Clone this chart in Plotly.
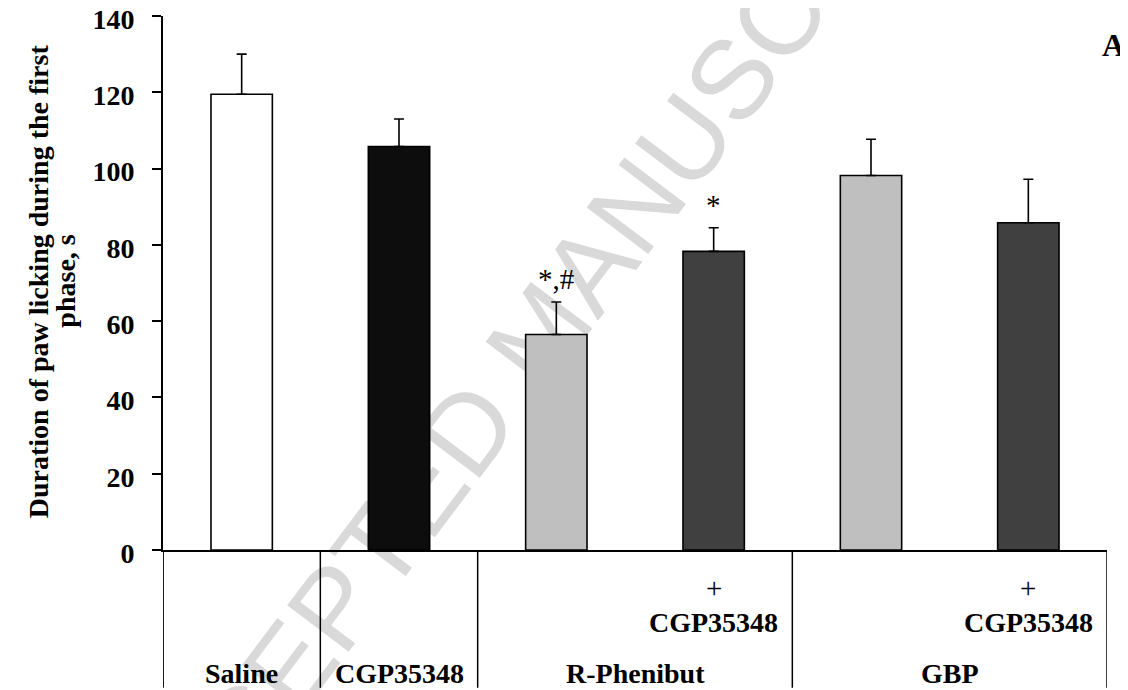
import plotly.graph_objects as go

# ---------------- data ----------------
categories = ["Saline", "CGP35348", "R-Phenibut", "R-Phenibut + CGP35348", "GBP", "GBP + CGP35348"]
means = [119.5, 105.8, 56.5, 78.3, 98.2, 85.8]
sems = [10.5, 7.2, 8.5, 6.2, 9.5, 11.4]
bar_colors = ["#ffffff", "#0d0d0d", "#bfbfbf", "#404040", "#bfbfbf", "#404040"]
sig_labels = ["", "", "*,#", "*", "", ""]

group_labels = ["Saline", "CGP35348", "R-Phenibut", "GBP"]
group_spans = [(0, 0), (1, 1), (2, 3), (4, 5)]   # first / last category index of each group
combo_index = [3, 5]                              # categories labelled "+ CGP35348"
combo_label = "CGP35348"

y_ticks = [0, 20, 40, 60, 80, 100, 120, 140]
y_title_lines = ["Duration of paw licking during the first", "phase, s"]
panel_letter = "A"
watermark = "ACCEPTED MANUSCRIPT"

SERIF = "Times New Roman, Liberation Serif, serif"
SANS = "Arial, Liberation Sans, sans-serif"

x_pos = list(range(len(categories)))

fig = go.Figure()
fig.add_trace(go.Bar(
    x=x_pos, y=means, width=0.39,
    marker=dict(color=bar_colors, line=dict(color="black", width=1.6)),
    error_y=dict(type="data", array=sems, arrayminus=[0] * len(sems), symmetric=False,
                 color="black", thickness=1.6, width=5),
    hovertext=categories, showlegend=False,
))

# significance marks above error bars
for i, lab in enumerate(sig_labels):
    if lab:
        fig.add_annotation(x=x_pos[i], y=means[i] + sems[i] + 6.0, xref="x", yref="y",
                           text=lab, showarrow=False, yanchor="middle",
                           font=dict(family=SERIF, size=29, color="black"))

# ---------------- table under the axis ----------------
TABLE_BOTTOM = -0.258
separators = [-0.5] + [span[1] + 0.5 for span in group_spans]
for k, sx in enumerate(separators):
    fig.add_shape(type="line", xref="x", yref="paper", x0=sx, x1=sx, y0=0, y1=TABLE_BOTTOM,
                  line=dict(color="black", width=1.8 if k == 0 else 1.5))

for lab, (a, b) in zip(group_labels, group_spans):
    fig.add_annotation(x=(x_pos[a] + x_pos[b]) / 2, y=-0.231, xref="x", yref="paper",
                       text="<b>%s</b>" % lab, showarrow=False, yanchor="middle",
                       font=dict(family=SERIF, size=28, color="black"))

for i in combo_index:
    fig.add_annotation(x=x_pos[i], y=-0.071, xref="x", yref="paper", text="+",
                       showarrow=False, yanchor="middle",
                       font=dict(family=SERIF, size=29, color="black"))
    fig.add_annotation(x=x_pos[i], y=-0.135, xref="x", yref="paper",
                       text="<b>%s</b>" % combo_label, showarrow=False, yanchor="middle",
                       font=dict(family=SERIF, size=28, color="black"))

# ---------------- y axis title ----------------
for xp, line in zip([-0.131, -0.103], y_title_lines):
    fig.add_annotation(x=xp, y=0.504, xref="paper", yref="paper", text="<b>%s</b>" % line,
                       textangle=-90, showarrow=False, xanchor="center", yanchor="middle",
                       font=dict(family=SERIF, size=28, color="black"))

# panel letter
fig.add_annotation(x=1.0064, y=0.946, xref="paper", yref="paper", text="<b>%s</b>" % panel_letter,
                   showarrow=False, xanchor="center", yanchor="middle",
                   font=dict(family=SERIF, size=32, color="black"))

# watermark (behind the bars)
fig.add_shape(type="rect", xref="paper", yref="paper", x0=0.390, x1=0.392, y0=0.4185, y1=0.4205,
              line=dict(width=0, color="rgba(0,0,0,0)"), fillcolor="rgba(0,0,0,0)", layer="below",
              label=dict(text=watermark, textangle=-53, textposition="middle center",
                         font=dict(family=SANS, size=112, color="#d9d9d9")))

fig.update_layout(
    width=1120, height=682,
    margin=dict(l=155, r=21, t=8, b=140),
    plot_bgcolor="rgba(0,0,0,0)", paper_bgcolor="white",
    xaxis=dict(range=[-0.5, 5.5], showline=True, linecolor="black", linewidth=2, automargin=False,
               showgrid=False, zeroline=False, showticklabels=False, ticks=""),
    yaxis=dict(range=[0, 140], tickvals=y_ticks, showline=True, linecolor="black", linewidth=2,
               ticks="outside", ticklen=9, tickwidth=2, tickcolor="black", automargin=False,
               showgrid=False, zeroline=False, ticklabelstandoff=12, ticklabeloverflow="allow",
               ticklabelshift=3,
               tickfont=dict(family=SERIF, size=28, color="black", weight="bold")),
)

fig.write_html("out.html")
